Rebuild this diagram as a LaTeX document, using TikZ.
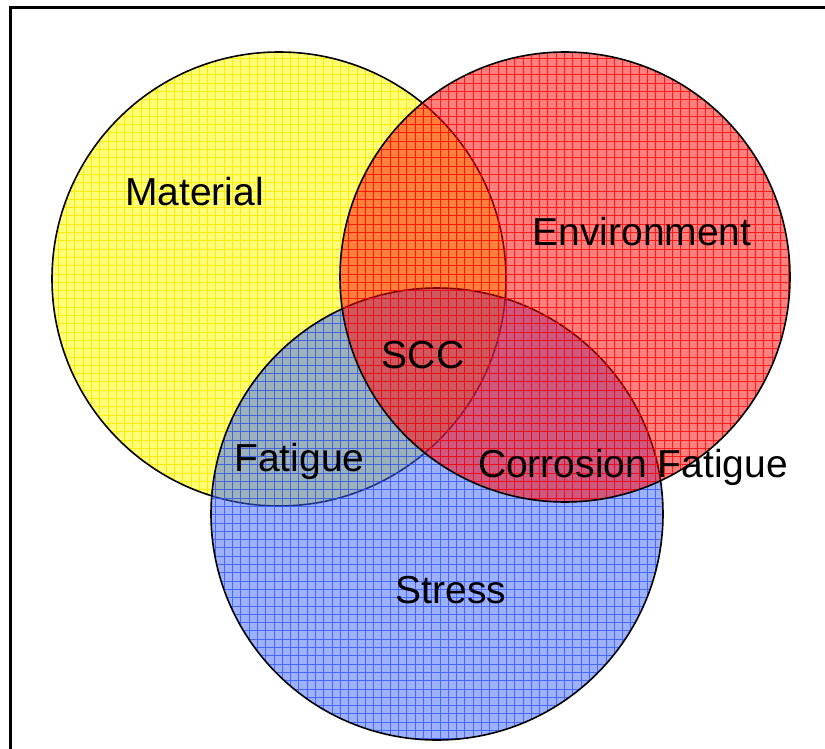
\documentclass[tikz,border=0pt]{standalone}
\usepackage{fontspec}
\setmainfont{Liberation Sans}
\definecolor{yfill}{RGB}{255,255,120}
\definecolor{ygrid}{RGB}{255,235,0}
\definecolor{bfill}{RGB}{60,100,255}
\definecolor{bgrid}{RGB}{40,80,255}
\definecolor{rfill}{RGB}{255,0,0}
\definecolor{rgrid}{RGB}{255,0,0}
\tikzset{
  lab/.style={font=\fontsize{39}{45}\selectfont, inner sep=0pt, anchor=base, text=black},
  outline/.style={draw=black, line width=1.6pt},
  gridline/.style={line width=0.7pt},
}
\begin{document}
\begin{tikzpicture}[x=1pt,y=-1pt]
\useasboundingbox (0,0) rectangle (825,749);
\fill[white] (0,0) rectangle (825,749);
% yellow circle
\fill[yfill] (279,279) circle[radius=227];
\begin{scope}
  \clip (279,279) circle[radius=227];
  \draw[ygrid, gridline, step=8.3pt] (40,520) grid (520,40);
\end{scope}
\draw[outline] (279,279) circle[radius=227];
% blue circle
\fill[bfill, fill opacity=0.5] (437,514) circle[radius=226];
\begin{scope}
  \clip (437,514) circle[radius=226];
  \draw[bgrid, gridline, draw opacity=0.75, step=8.3pt] (200,760) grid (680,280);
\end{scope}
\draw[outline] (437,514) circle[radius=226];
% red circle
\fill[rfill, fill opacity=0.5] (565,277) circle[radius=225];
\begin{scope}
  \clip (565,277) circle[radius=225];
  \draw[rgrid, gridline, draw opacity=0.8, step=8.3pt] (330,520) grid (800,40);
\end{scope}
\draw[outline] (565,277) circle[radius=225];
% frame
\draw[line width=3pt] (10.5,749) -- (10.5,7.5) -- (825,7.5);
% labels
\node[lab] (material) at (194.5,205) {Material};
\node[lab] (environment) at (642,245) {Environment};
\node[lab] (scc) at (423,368) {SCC};
\node[lab] (fatigue) at (299.5,471) {Fatigue};
\node[lab] (corrosion) at (633,477) {Corrosion Fatigue};
\node[lab] (stress) at (451,603) {Stress};
\end{tikzpicture}
\end{document}
